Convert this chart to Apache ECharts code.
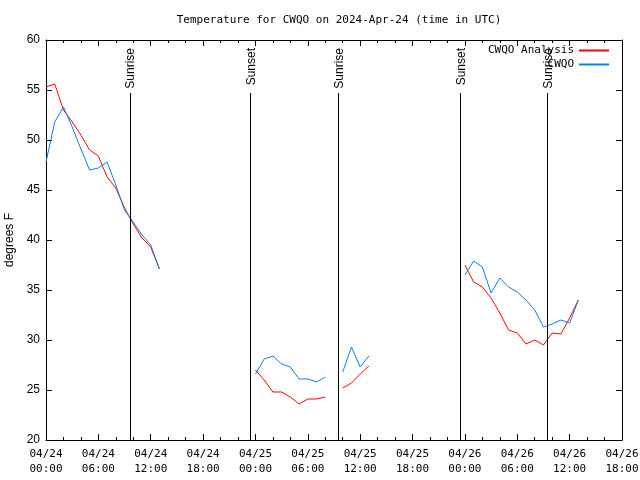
<!DOCTYPE html>
<html>
<head>
<meta charset="utf-8">
<script src="https://cdn.jsdelivr.net/npm/echarts@6/dist/echarts.min.js"></script>
<style>html,body{margin:0;padding:0;background:#fff}#c{width:640px;height:480px}</style>
</head>
<body>
<div id="c"></div>
<script>
// hours since 2024-04-24 00:00 UTC (null values break the line)
const hours = [0,1,2,3,4,5,6,7,8,9,10,11,12,13,14,
  24,25,26,27,28,29,30,31,32,33,34,35,36,37,38,
  48,49,50,51,52,53,54,55,56,57,58,59,60,61];
const analysis = [55.3,55.6,53.0,51.8,50.5,49.0,48.4,46.3,45.2,43.2,41.6,40.2,39.3,37.1,null,
  27.0,26.0,24.8,24.8,24.3,23.6,24.1,24.1,24.3,null,25.2,25.7,26.6,27.4,null,
  37.5,35.8,35.3,34.2,32.7,31.0,30.7,29.6,30.0,29.5,30.7,30.6,32.2,34.0];
const observed = [47.8,51.8,53.3,51.3,49.1,47.0,47.2,47.8,45.5,43.0,41.8,40.5,39.5,37.1,null,
  26.6,28.1,28.4,27.6,27.3,26.1,26.1,25.8,26.3,null,26.8,29.3,27.3,28.4,null,
  36.5,37.9,37.3,34.7,36.2,35.3,34.8,34.0,33.0,31.3,31.6,32.0,31.7,34.0];
// sun events (hours since 2024-04-24 00:00 UTC)
const sunEvents = [
  {t: 9.63, label: 'Sunrise'},
  {t: 23.46, label: 'Sunset'},
  {t: 33.54, label: 'Sunrise'},
  {t: 47.47, label: 'Sunset'},
  {t: 57.44, label: 'Sunrise'}
];
const seriesNames = ['CWQO Analysis', 'CWQO'];
const title = 'Temperature for CWQO on 2024-Apr-24 (time in UTC)';
const yTicks = {min: 20, max: 60, interval: 5};
const xTicks = {min: 0, max: 66, interval: 6};

const LINE_TOP = 54.7;
const mono = 'DejaVu Sans Mono';
const sans = 'Liberation Sans';

function fmtX(v) {
  const day = 24 + Math.floor(v / 24);
  const hh = v % 24;
  return '04/' + day + '\n' + (hh < 10 ? '0' : '') + hh + ':00';
}
const pairs = arr => hours.map((h, i) => [h, arr[i]]);

const chart = echarts.init(document.getElementById('c'), null, {renderer: 'canvas'});
const axX = (pos, show) => ({
  type: 'value', position: pos, min: xTicks.min, max: xTicks.max, interval: xTicks.interval,
  axisLine: {show: true, onZero: false, lineStyle: {color: '#000', width: 1}},
  axisTick: {show: true, inside: true, length: 6, lineStyle: {color: '#000'}},
  minorTick: {show: true, splitNumber: 3, length: 3, lineStyle: {color: '#000'}},
  splitLine: {show: false},
  axisLabel: {show: show, formatter: fmtX, fontFamily: mono, fontSize: 11, color: '#000', lineHeight: 15, margin: 7}
});
const axY = (pos, show) => ({
  type: 'value', position: pos, min: yTicks.min, max: yTicks.max, interval: yTicks.interval,
  name: show ? 'degrees F' : '', nameLocation: 'middle', nameGap: 30, nameRotate: 90,
  nameTextStyle: {fontFamily: sans, fontSize: 12, color: '#000'},
  axisLine: {show: true, onZero: false, lineStyle: {color: '#000', width: 1}},
  axisTick: {show: true, inside: true, length: 6, lineStyle: {color: '#000'}},
  splitLine: {show: false},
  axisLabel: {show: show, fontFamily: sans, fontSize: 12, color: '#000', margin: 6}
});

chart.setOption({
  animation: false,
  backgroundColor: '#fff',
  title: {text: title, left: 334, textAlign: 'center', top: 10,
    textStyle: {fontFamily: mono, fontSize: 11, fontWeight: 'normal', color: '#000'}},
  grid: {left: 46, right: 18, top: 40, bottom: 40, containLabel: false, outerBoundsMode: 'none'},
  legend: {
    right: 26, top: 40, orient: 'vertical', align: 'right', itemGap: 3,
    itemWidth: 30, itemHeight: 2, icon: 'rect',
    textStyle: {fontFamily: mono, fontSize: 11, color: '#000', padding: [0, 0, 0, 0]},
    data: seriesNames
  },
  xAxis: [axX('bottom', true), axX('top', false)],
  yAxis: [axY('left', true), axY('right', false)],
  series: [
    {
      name: seriesNames[0], type: 'line', data: pairs(analysis), symbol: 'none',
      connectNulls: false, color: '#ff0000', lineStyle: {width: 1, color: '#ff0000'},
      markLine: {
        silent: true, symbol: 'none', label: {show: false},
        lineStyle: {color: '#000', width: 1, type: 'solid'},
        data: sunEvents.map(e => [{coord: [e.t, yTicks.min]}, {coord: [e.t, LINE_TOP]}])
      }
    },
    {
      name: seriesNames[1], type: 'line', data: pairs(observed), symbol: 'none',
      connectNulls: false, color: '#0a80f0', lineStyle: {width: 1, color: '#0a80f0'}
    }
  ]
});

chart.setOption({
  graphic: sunEvents.map(e => ({
    type: 'text',
    x: chart.convertToPixel({xAxisIndex: 0}, e.t) + 1,
    y: 48,
    rotation: Math.PI / 2,
    style: {text: e.label, font: '12px ' + sans, fill: '#000', textAlign: 'right', textVerticalAlign: 'middle'}
  }))
});
</script>
</body>
</html>
